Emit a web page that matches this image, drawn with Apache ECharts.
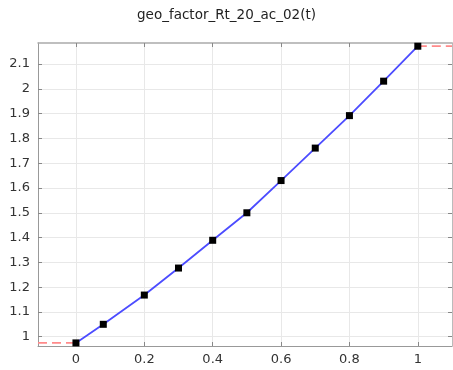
<!DOCTYPE html>
<html>
<head>
<meta charset="utf-8">
<script src="https://cdn.jsdelivr.net/npm/echarts@6/dist/echarts.min.js"></script>
<style>
  html, body { margin: 0; padding: 0; background: #fff; }
  #chart { width: 453px; height: 370px; }
</style>
</head>
<body>
<div id="chart"></div>
<script>
// Interpolation nodes of geo_factor_Rt_20_ac_02(t)
const tValues = [0, 0.08, 0.2, 0.3, 0.4, 0.5, 0.6, 0.7, 0.8, 0.9, 1.0];
const fValues = [0.975, 1.050, 1.168, 1.277, 1.389, 1.500, 1.630, 1.761, 1.892, 2.031, 2.172];
const xTicks = [0, 0.2, 0.4, 0.6, 0.8, 1];
const yTicks = [1, 1.1, 1.2, 1.3, 1.4, 1.5, 1.6, 1.7, 1.8, 1.9, 2, 2.1];
const xRange = [-0.111, 1.1];
const yRange = [0.9625, 2.185];

const nodes = tValues.map((t, i) => [t, fValues[i]]);
const last = nodes.length - 1;
// constant extrapolation outside the node interval
const leftExtrap = [[xRange[0], fValues[0]], [tValues[0], fValues[0]]];
const rightExtrap = [[tValues[last], fValues[last]], [xRange[1], fValues[last]]];

const font = 'DejaVu Sans, sans-serif';
const fmt = v => String(Math.round(v * 10) / 10);

const chart = echarts.init(document.getElementById('chart'), null, { renderer: 'canvas' });
chart.setOption({
  animation: false,
  title: {
    text: 'geo_factor_Rt_20_ac_02(t)',
    left: 'center',
    top: 3,
    textStyle: { fontFamily: font, fontSize: 13.5, fontWeight: 'normal', color: '#222' }
  },
  grid: { left: 38, right: 1, top: 43, bottom: 24, containLabel: false },
  xAxis: [{
    type: 'value', min: xRange[0], max: xRange[1], position: 'bottom',
    axisLine: { show: true, onZero: false, lineStyle: { color: '#999', width: 1 } },
    axisTick: { show: true, inside: true, length: 4, customValues: xTicks, lineStyle: { color: '#888' } },
    axisLabel: { customValues: xTicks, formatter: fmt, fontFamily: font, fontSize: 13, color: '#333', margin: 7 },
    splitLine: { show: true, lineStyle: { color: '#e8e8e8', width: 1 } }
  }, {
    type: 'value', min: xRange[0], max: xRange[1], position: 'top',
    axisLine: { show: true, onZero: false, lineStyle: { color: '#aaa', width: 1.5 } },
    axisTick: { show: true, inside: true, length: 4, customValues: xTicks, lineStyle: { color: '#888' } },
    axisLabel: { show: false },
    splitLine: { show: false }
  }],
  yAxis: [{
    type: 'value', min: yRange[0], max: yRange[1], position: 'left',
    axisLine: { show: true, onZero: false, lineStyle: { color: '#999', width: 1 } },
    axisTick: { show: true, inside: true, length: 4, customValues: yTicks, lineStyle: { color: '#888' } },
    axisLabel: { customValues: yTicks, formatter: fmt, fontFamily: font, fontSize: 13, color: '#333', margin: 8 },
    splitLine: { show: true, lineStyle: { color: '#e8e8e8', width: 1 } }
  }, {
    type: 'value', min: yRange[0], max: yRange[1], position: 'right',
    axisLine: { show: true, onZero: false, lineStyle: { color: '#bbb', width: 1 } },
    axisTick: { show: true, inside: true, length: 4, customValues: yTicks, lineStyle: { color: '#888' } },
    axisLabel: { show: false },
    splitLine: { show: false }
  }],
  series: [{
    type: 'line', data: leftExtrap, symbol: 'none', silent: true,
    lineStyle: { color: '#ff8a8a', width: 1.8, type: [9, 5] }, z: 2
  }, {
    type: 'line', data: rightExtrap, symbol: 'none', silent: true,
    lineStyle: { color: '#ff8a8a', width: 1.8, type: [9, 5] }, z: 2
  }, {
    type: 'line', data: nodes,
    symbol: 'rect', symbolSize: 7,
    itemStyle: { color: '#000' },
    lineStyle: { color: '#4c4cff', width: 1.8 }, z: 3
  }]
});
</script>
</body>
</html>
